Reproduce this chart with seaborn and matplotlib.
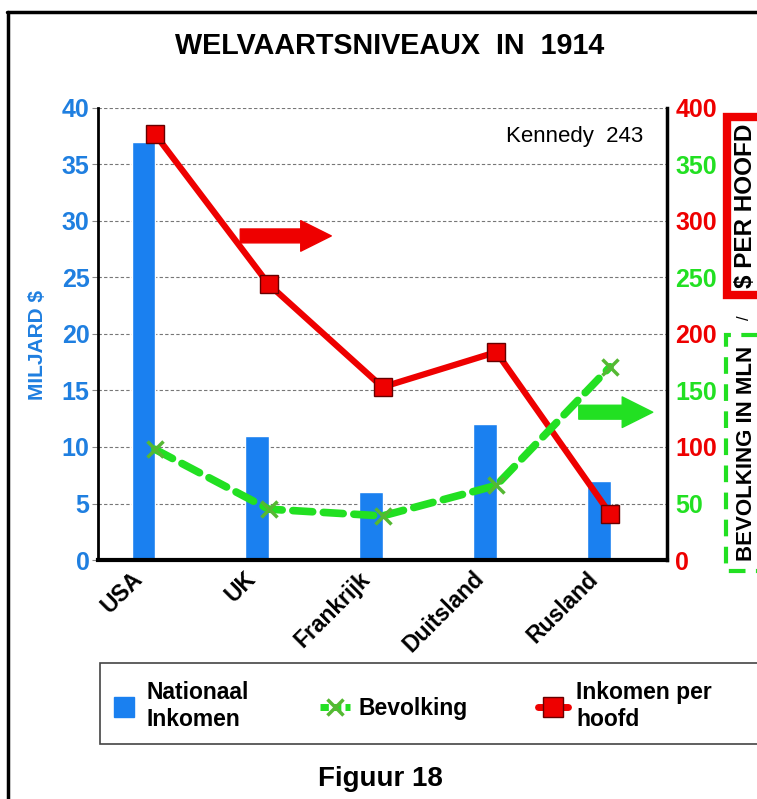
import numpy as np
import matplotlib
matplotlib.use("Agg")
import matplotlib.pyplot as plt
import matplotlib.transforms as mtransforms
from matplotlib.lines import Line2D
from matplotlib.patches import Rectangle
import seaborn as sns

# data
countries = ["USA", "UK", "Frankrijk", "Duitsland", "Rusland"]
nationaal_inkomen = [37, 11, 6, 12, 7]          # miljard $
inkomen_per_hoofd = [377, 244, 153, 184, 41]    # $ per hoofd
bevolking = [98, 45, 39, 66, 171]               # mln
left_ticks = [0, 5, 10, 15, 20, 25, 30, 35, 40]
right_ticks = [0, 50, 100, 150, 200, 250, 300, 350, 400]

BLUE = "#1a80f0"
BLUE_TXT = "#1f7fe0"
RED = "#ee0000"
GREEN = "#22e022"

sns.set_style("white")
plt.rcParams["font.family"] = ["Liberation Sans", "DejaVu Sans"]
plt.rcParams["text.color"] = "black"
plt.rcParams["axes.labelcolor"] = "black"
plt.rcParams["xtick.color"] = "black"
plt.rcParams["ytick.color"] = "black"

fig = plt.figure(figsize=(7.57, 7.99), dpi=100)
ax = fig.add_axes([98 / 757, 1 - 560 / 799, 569 / 757, 452 / 799])

# bars (left axis)
sns.barplot(x=countries, y=nationaal_inkomen, color=BLUE, saturation=1,
            width=0.21, ax=ax, zorder=2)
for p in ax.patches:
    p.set_x(p.get_x() - 0.1)
ax.set_ylim(0, 40)
ax.set_yticks(left_ticks)
ax.yaxis.grid(True, linestyle=(0, (3, 2)), color="#777777", linewidth=0.8, zorder=0)
ax.set_axisbelow(True)

# lines (right axis)
ax2 = ax.twinx()
sns.pointplot(x=countries, y=inkomen_per_hoofd, ax=ax2, color=RED, errorbar=None,
              marker="s", markersize=13, linewidth=4.5, markeredgecolor="#660000",
              markeredgewidth=1)
sns.pointplot(x=countries, y=bevolking, ax=ax2, color=GREEN, errorbar=None,
              marker="x", markersize=12, linewidth=5.5, markeredgecolor="#55b833",
              markeredgewidth=2.5, linestyle="--", dashes=(2.6, 1.4),
              dash_capstyle="round")
ax2.set_ylim(0, 400)
ax2.set_yticks(right_ticks)
ax2.set_ylabel("")
ax2.set_xlabel("")
ax.set_xlabel("")

# spines
for a in (ax, ax2):
    for s in ("top", "left", "right", "bottom"):
        a.spines[s].set_visible(False)
ax.spines["left"].set_visible(True)
ax.spines["left"].set_linewidth(2)
ax.spines["left"].set_color("black")
ax.spines["bottom"].set_visible(True)
ax.spines["bottom"].set_linewidth(3)
ax.spines["bottom"].set_color("black")
ax2.spines["right"].set_visible(True)
ax2.spines["right"].set_linewidth(2.5)
ax2.spines["right"].set_color("black")

# ticks
ax.tick_params(axis="y", length=4, color="#888888", labelsize=18, pad=2)
ax.tick_params(axis="x", length=0, pad=11)
ax2.tick_params(axis="y", length=0, labelsize=18, pad=6)
for t in ax.get_yticklabels():
    t.set_color(BLUE_TXT)
    t.set_fontweight("bold")
for i, t in enumerate(ax2.get_yticklabels()):
    t.set_color(RED if i % 2 == 0 else GREEN)
    t.set_fontweight("bold")

# x tick labels (after tick_params, which would reset the label transforms)
ax.set_xlim(-0.5, len(countries) - 0.5)
ax.set_xticks(range(len(countries)))
ax.set_xticklabels(countries, rotation=45, ha="right", va="center",
                   rotation_mode="anchor", fontweight="bold", fontsize=16.5)
shift = mtransforms.ScaledTranslation(-16 / 100, 0, fig.dpi_scale_trans)
for t in ax.get_xticklabels():
    t.set_transform(t.get_transform() + shift)

ax.set_ylabel("MILJARD $", color=BLUE_TXT, fontsize=15, fontweight="bold")
ax.yaxis.set_label_coords(-0.09, 0.476)

# annotations
ax.text(0.958, 0.938, "Kennedy  243", transform=ax.transAxes, ha="right",
        va="center", fontsize=16)
ax.annotate("", xy=(0.41, 0.717), xytext=(0.25, 0.717), xycoords="axes fraction",
            arrowprops=dict(arrowstyle="simple,head_length=1.1,head_width=1.1,tail_width=0.5",
                            color=RED, mutation_scale=20, shrinkA=0, shrinkB=0))
ax.annotate("", xy=(0.975, 0.327), xytext=(0.845, 0.327), xycoords="axes fraction",
            arrowprops=dict(arrowstyle="simple,head_length=1.1,head_width=1.1,tail_width=0.5",
                            color=GREEN, mutation_scale=20, shrinkA=0, shrinkB=0))

# right axis label pieces
fig.text(0.985, 1 - 206 / 799, "$ PER HOOFD", rotation=90, ha="center", va="center",
         fontsize=17.5, fontweight="bold",
         bbox=dict(boxstyle="square,pad=0.3", facecolor="white", edgecolor=RED, linewidth=6))
fig.text(0.983, 1 - 318 / 799, "/", rotation=90, ha="center", va="center", fontsize=12)
fig.text(0.986, 1 - 453 / 799, "BEVOLKING IN MLN", rotation=90, ha="center", va="center",
         fontsize=16, fontweight="bold",
         bbox=dict(boxstyle="square,pad=0.45", facecolor="none", edgecolor=GREEN,
                   linewidth=3, linestyle=(0, (4, 2.5))))

# titles
fig.text(0.515, 1 - 46 / 799, "WELVAARTSNIVEAUX  IN  1914", ha="center", va="center",
         fontsize=20.7, fontweight="bold")
fig.text(0.502, 1 - 779 / 799, "Figuur 18", ha="center", va="center",
         fontsize=20, fontweight="bold")

# outer border
fig.add_artist(Line2D([8 / 757, 8 / 757], [0, 1 - 12 / 799], transform=fig.transFigure,
                      color="black", linewidth=2.5))
fig.add_artist(Line2D([7 / 757, 1], [1 - 12 / 799, 1 - 12 / 799], transform=fig.transFigure,
                      color="black", linewidth=2.5))

# legend (box runs past the right edge, as in the reference)
fig.add_artist(Rectangle((100 / 757, 1 - 744 / 799), 700 / 757, 81 / 799,
                         transform=fig.transFigure, facecolor="white",
                         edgecolor="#444444", linewidth=1.2))
handles = [
    Line2D([], [], linestyle="none", marker="s", markersize=14,
           markerfacecolor=BLUE, markeredgecolor=BLUE),
    Line2D([], [], color=GREEN, linewidth=5, linestyle="--", dashes=(1.2, 0.6),
           marker="x", markersize=12, markeredgecolor="#55b833", markeredgewidth=2.5),
    Line2D([], [], color=RED, linewidth=5, marker="s", markersize=14,
           markeredgecolor="#660000", markeredgewidth=1),
]
labels = ["Nationaal\nInkomen", "Bevolking", "Inkomen per\nhoofd"]
leg = fig.legend(handles, labels, loc="center left", ncol=3,
                 bbox_to_anchor=(109 / 757, 1 - 706 / 799),
                 prop={"size": 16.5, "weight": "bold"}, frameon=False,
                 handlelength=1.3, handletextpad=0.35, borderaxespad=0,
                 borderpad=0, columnspacing=3.1, labelspacing=0.2)

fig.savefig("out.png", dpi=100)
